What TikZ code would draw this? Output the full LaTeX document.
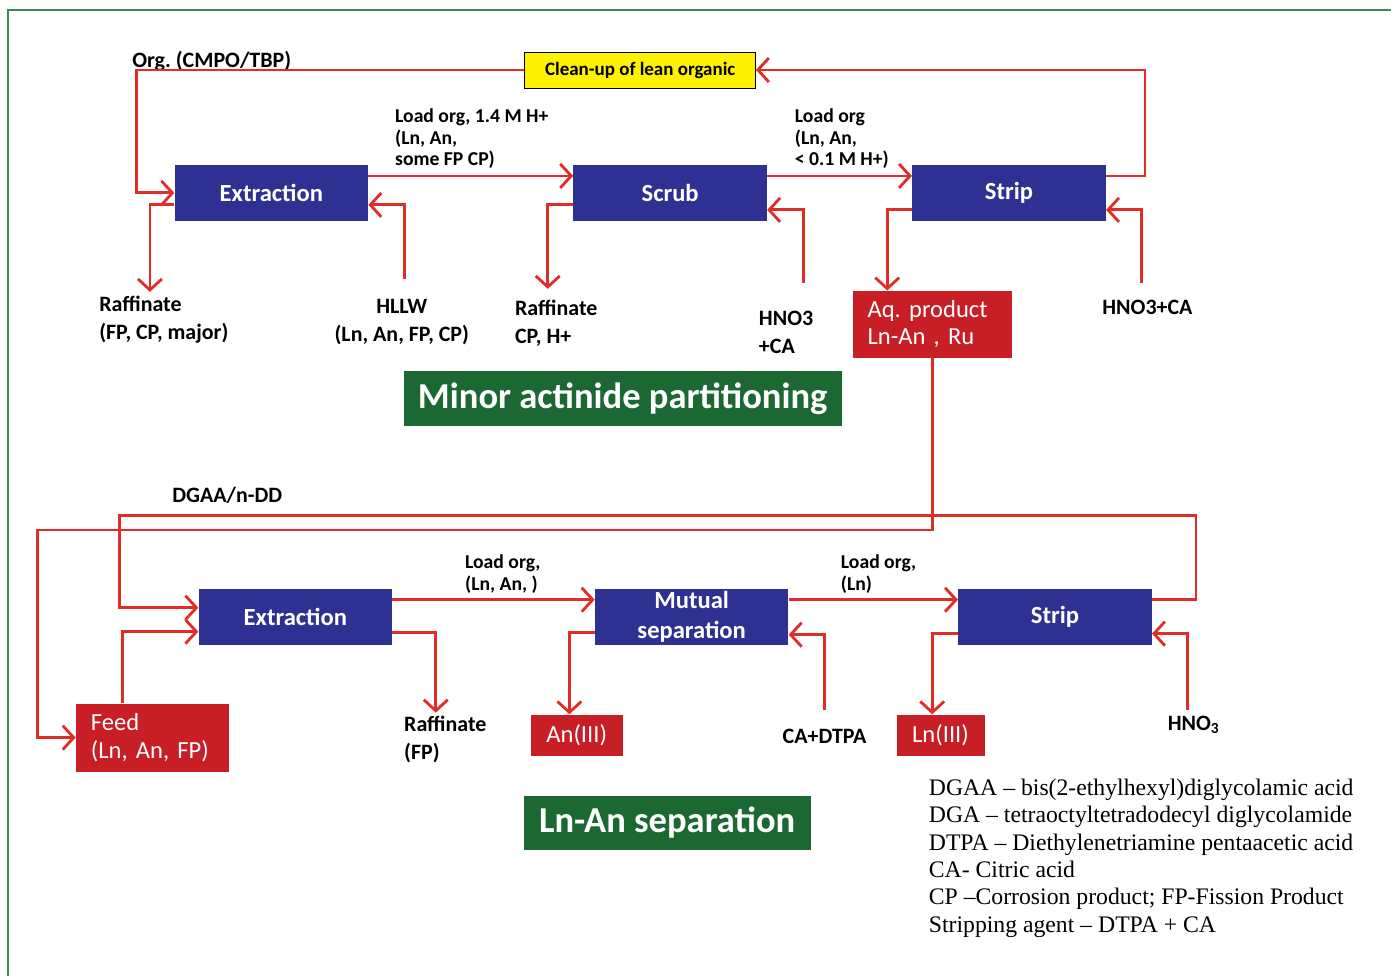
\documentclass[tikz,border=0pt]{standalone}
\usepackage{fontspec}
\setmainfont{Carlito}
\newfontfamily\legendfont{Liberation Serif}
\usetikzlibrary{arrows.meta}
\usetikzlibrary{calc}
\definecolor{procblue}{RGB}{46,49,146}
\definecolor{prodred}{RGB}{200,30,38}
\definecolor{flowred}{RGB}{224,45,40}
\definecolor{titlegreen}{RGB}{28,104,50}
\definecolor{cleanyellow}{RGB}{255,242,0}
\definecolor{framegreen}{RGB}{60,140,90}
\frenchspacing

\begin{document}
\begin{tikzpicture}[x=0.02cm, y=-0.02cm]
        % ================= 样式定义 =================
        \tikzset{
            % 工序方框:蓝色
            proc/.style={fill=procblue, text=white, align=center, inner sep=0pt, minimum width=3.87cm, minimum height=1.12cm, font=\bfseries\fontsize{14}{17}\selectfont},
            % 产物方框:红色
            prod/.style={fill=prodred, text=white, inner xsep=0.3cm, inner ysep=0pt, font=\fontsize{14}{15.5}\selectfont},
            % 标题方框:绿色
            title/.style={fill=titlegreen, text=white, inner sep=0pt, font=\bfseries\fontsize{20.8}{22}\selectfont},
            % 物料标签
            lbl/.style={align=left, inner sep=0pt, font=\bfseries\fontsize{12.5}{16}\selectfont},
            % 流股上方的小标签
            small/.style={align=left, inner sep=0pt, font=\bfseries\fontsize{11.2}{12.5}\selectfont},
            % 流股:红色箭头
            flow/.style={draw=flowred, line width=1.6pt, -{Straight Barb[length=2.2mm, width=4.8mm, line width=1.6pt]}}
        }

        % 绿色边框
        \draw[framegreen, line width=0.8pt] (8,976) -- (8,10) -- (1392,10);

        % ================= 第一部分:次锕系元素分离 (上) =================
        \begin{scope}
            % 方框
            \node[draw=black, fill=cleanyellow, inner sep=0pt, minimum width=4.62cm, minimum height=0.72cm, font=\bfseries\fontsize{10.8}{12}\selectfont] (cleanup) at (640.5, 70) {Clean-up of lean organic};
            \node[proc] (ext1) at (271.5, 193) {Extraction};
            \node[proc] (scrub) at (670.5, 193) {Scrub};
            \node[proc] (strip1) at (1009.5, 193) {Strip};
            \node[prod, text width=2.6cm, minimum height=1.34cm, align=left] (aq) at (933, 324.5) {Aq. product\\Ln-An , Ru};
            \node[title, minimum width=8.76cm, minimum height=1.1cm] (title1) at (623, 398.5) {Minor actinide partitioning};

            % 标签
            \node[lbl, anchor=base west] (orglbl) at (132, 68) {Org. (CMPO/TBP)};
            \node[small, anchor=north west] (load1) at (395, 108) {Load org, 1.4 M H+\\(Ln, An,\\some FP CP)};
            \node[small, anchor=north west] (load2) at (795, 108) {Load org\\(Ln, An,\\< 0.1 M H+)};
            \node[lbl, anchor=north west] (raf1) at (99, 296) {Raffinate\\(FP, CP, major)};
            \node[lbl, align=center, anchor=north] (hllw) at (402, 299) {HLLW\\(Ln, An, FP, CP)};
            \node[lbl, anchor=north west] (raf2) at (515, 300) {Raffinate\\CP, H+};
            \node[lbl, anchor=north west] (hno3a) at (759, 311) {HNO3\\+CA};
            \node[lbl, anchor=north] (hno3b) at (1148, 300) {HNO3+CA};

            % 流股
            \draw[flow] (cleanup.west) -| ($(ext1.west)+(-38,0)$) -- (ext1.west);
            \draw[flow] ([yshift=.34cm]strip1.east) -- ++(39,0) |- (cleanup.east);
            \draw[flow] ([yshift=.34cm]ext1.east) -- ([yshift=.34cm]scrub.west);
            \draw[flow] ([yshift=.34cm]scrub.east) -- ([yshift=.34cm]strip1.west);
            \draw[flow] ([yshift=-.24cm]ext1.west) -| ($(raf1.north west)+(51,-4)$);
            \draw[flow] ($(hllw.north)+(3,-20)$) |- ([yshift=-.24cm]ext1.east);
            \draw[flow] ([yshift=-.24cm]scrub.west) -| ($(raf2.north west)+(33,-11)$);
            \draw[flow] ($(hno3a.north west)+(45,-28)$) |- ([yshift=-.34cm]scrub.east);
            \draw[flow] ([yshift=-.34cm]strip1.west) -| ($(aq.north west)+(35,0)$);
            \draw[flow] ($(hno3b.north)+(-6,-17)$) |- ([yshift=-.34cm]strip1.east);
        \end{scope}

        % ================= 第二部分:Ln-An 分离 (下) =================
        \begin{scope}
            % 方框
            \node[proc] (ext2) at (295.5, 617) {Extraction};
            \node[proc] (mutual) at (692, 617) {Mutual\\separation};
            \node[proc] (strip2) at (1055.5, 617) {Strip};
            \node[prod, text width=2.46cm, minimum height=1.36cm, align=left] (feed) at (152.5, 738) {Feed\\(Ln, An, FP)};
            \node[prod, text width=1.24cm, minimum height=0.82cm, align=center] (an) at (577, 735.5) {An(III)};
            \node[prod, text width=1.16cm, minimum height=0.82cm, align=center] (ln) at (941, 735.5) {Ln(III)};
            \node[title, minimum width=5.74cm, minimum height=1.08cm] (title2) at (667.5, 823) {Ln-An separation};

            % 标签
            \node[lbl, anchor=base west] (dgaa) at (172, 503) {DGAA/n-DD};
            \node[small, anchor=north west] (load3) at (465, 555) {Load org,\\(Ln, An, )};
            \node[small, anchor=north west] (load4) at (841, 555) {Load org,\\(Ln)};
            \node[lbl, anchor=north west] (raf3) at (404, 716) {Raffinate\\(FP)};
            \node[lbl, anchor=north] (catpa) at (825, 729) {CA+DTPA};
            \node[lbl, anchor=north west] (hno3c) at (1168, 716) {HNO\textsubscript{3}};

            % 流股
            \draw[flow] (aq.south) -- ++(0,172) -| ($(feed.west)+(-38,0)$) -- (feed.west);
            \draw[flow] ([yshift=.34cm]strip2.east) -- ++(44,0) -- ++(0,-84) -| ($([yshift=.18cm]ext2.west)+(-79,0)$) -- ([yshift=.18cm]ext2.west);
            \draw[flow] ($(feed.north west)+(47,0)$) |- ([yshift=-.3cm]ext2.west);
            \draw[flow] ([yshift=.34cm]ext2.east) -- ([yshift=.34cm]mutual.west);
            \draw[flow] ([yshift=.34cm]mutual.east) -- ([yshift=.34cm]strip2.west);
            \draw[flow] ([yshift=-.32cm]ext2.east) -| ($(raf3.north west)+(32,-3)$);
            \draw[flow] ([yshift=-.32cm]mutual.west) -| ($(an.north west)+(39,0)$);
            \draw[flow] ($(catpa.north)+(0,-19)$) |- ([yshift=-.36cm]mutual.east);
            \draw[flow] ([yshift=-.34cm]strip2.west) -| ($(ln.north west)+(36,0)$);
            \draw[flow] ($(hno3c.north west)+(20,-6)$) |- ([yshift=-.34cm]strip2.east);
        \end{scope}

        % ================= 缩写说明 =================
        \node[anchor=north west, align=left, inner sep=0pt, font=\legendfont\fontsize{13.5}{15.6}\selectfont] (legend) at (929, 779) {DGAA – bis(2-ethylhexyl)diglycolamic acid\\DGA – tetraoctyltetradodecyl diglycolamide\\DTPA – Diethylenetriamine pentaacetic acid\\CA- Citric acid\\CP –Corrosion product; FP-Fission Product\\Stripping agent – DTPA + CA};

        \useasboundingbox (0,0) rectangle (1392,976);
    \end{tikzpicture}
\end{document}
